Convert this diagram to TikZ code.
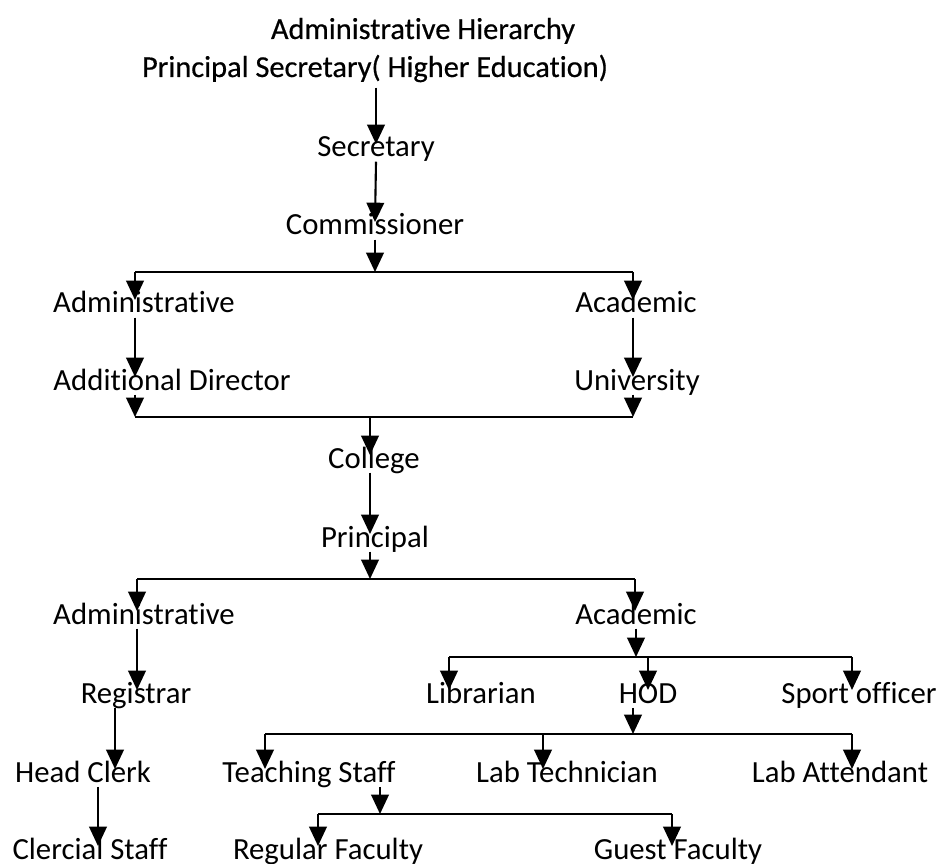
\documentclass[tikz,border=0pt]{standalone}
\usepackage{fontspec}
\setmainfont{Carlito}[Ligatures=NoCommon]
\newfontfamily\titlefam{Carlito}[Ligatures=NoCommon,FakeBold=0.5]
\usetikzlibrary{arrows.meta,calc}
\newcommand\lblfont{\fontsize{17.5}{21}\selectfont}
\newcommand\ttlfont{\titlefam\fontsize{17.3}{21}\selectfont}
\begin{document}
\begin{tikzpicture}[x=0.02cm,y=-0.02cm,
  lbl/.style={font=\lblfont,inner sep=0pt,text height=0.72em,text depth=0.25em,anchor=base},
  ttl/.style={lbl,font=\ttlfont},
  arr/.style={line width=1.2pt,-{Triangle[length=11pt,width=10pt]}},
  bar/.style={line width=1.2pt}]
\useasboundingbox (0,0) rectangle (942,864);
% top of the chain
\node[ttl] (title) at (423,39) {Administrative Hierarchy};
\node[ttl] (psec) at (375,77) {Principal Secretary( Higher Education)};
\node[lbl] (sec) at (376,157) {Secretary};
\node[lbl] (comm) at (375,235) {Commissioner};
\node[lbl] (adm1) at (144,313) {Administrative};
\node[lbl] (aca1) at (636,313) {Academic};
\node[lbl] (adddir) at (172,390) {Additional Director};
\node[lbl] (univ) at (637,390) {University};
\node[lbl] (coll) at (374,468) {College};
\node[lbl] (princ) at (375,547) {Principal};
% college level
\node[lbl] (adm2) at (144,624) {Administrative};
\node[lbl] (aca2) at (636,624) {Academic};
\node[lbl] (reg) at (136,703) {Registrar};
\node[lbl] (libr) at (481,703) {Librarian};
\node[lbl] (hod) at (648,703) {HOD};
\node[lbl] (sport) at (859,703) {Sport officer};
\node[lbl] (hclerk) at (83,782) {Head Clerk};
\node[lbl] (teach) at (309,782) {Teaching Staff};
\node[lbl] (labtech) at (567,782) {Lab Technician};
\node[lbl] (labatt) at (840,782) {Lab Attendant};
\node[lbl] (cstaff) at (90,859) {Clercial Staff};
\node[lbl] (regfac) at (328,859) {Regular Faculty};
\node[lbl] (guest) at (678,859) {Guest Faculty};
% branch points
\coordinate (b1l) at (135,272); \coordinate (b1r) at (633,272);
\coordinate (b2l) at (135,417); \coordinate (b2r) at (633,417); \coordinate (b2m) at (370,417);
\coordinate (b3l) at (137,579); \coordinate (b3r) at (635,579);
\coordinate (b4l) at (449,657); \coordinate (b4r) at (852,657);
\coordinate (b5l) at (265,734); \coordinate (b5r) at (852,734); \coordinate (b5m) at (543,734);
\coordinate (b6l) at (318,814); \coordinate (b6r) at (672,814); \coordinate (b6m) at (380,814);
\foreach \a/\b in {b1l/b1r,b2l/b2r,b3l/b3r,b4l/b4r,b5l/b5r,b6l/b6r}
  \draw[bar] (\a) -- (\b);
% connectors
\draw[arr] ([yshift=-0.12cm]psec.south -| sec.north) -- (sec.north);
\draw[arr] (sec.south) -- (comm.north);
\draw[arr] (comm.south) -- (comm.south |- b1l);
\draw[arr] (b1l) -- (b1l |- adm1.north);
\draw[arr] (b1r) -- (b1r |- aca1.north);
\draw[arr] (adm1.south -| b1l) -- (adddir.north -| b1l);
\draw[arr] (aca1.south -| b1r) -- (univ.north -| b1r);
\draw[arr] (adddir.south -| b2l) -- (b2l);
\draw[arr] (univ.south -| b2r) -- (b2r);
\draw[arr] (b2m) -- (b2m |- coll.north);
\draw[arr] (coll.south -| b2m) -- (princ.north -| b2m);
\draw[arr] (princ.south -| b2m) -- (b2m |- b3l);
\draw[arr] (b3l) -- (b3l |- adm2.north);
\draw[arr] (b3r) -- (b3r |- aca2.north);
\draw[arr] (adm2.south -| b3l) -- (reg.north -| b3l);
\draw[arr] ([xshift=-0.42cm]reg.south) -- ([xshift=-0.42cm]reg.south |- hclerk.north);
\draw[arr] ([xshift=0.3cm]hclerk.south) -- ([xshift=0.3cm]hclerk.south |- cstaff.north);
\draw[arr] (aca2.south) -- (aca2.south |- b4l);
\draw[arr] (b4l) -- (b4l |- libr.north);
\draw[arr] (hod.north |- b4l) -- (hod.north);
\draw[arr] (b4r) -- (b4r |- sport.north);
\draw[arr] ([xshift=-0.3cm]hod.south) -- ([xshift=-0.3cm]hod.south |- b5l);
\draw[arr] (b5l) -- (b5l |- teach.north);
\draw[arr] (b5m) -- (b5m |- labtech.north);
\draw[arr] (b5r) -- (b5r |- labatt.north);
\draw[arr] (teach.south -| b6m) -- (b6m);
\draw[arr] (b6l) -- (b6l |- regfac.north);
\draw[arr] (b6r) -- (b6r |- guest.north);
\end{tikzpicture}
\end{document}
